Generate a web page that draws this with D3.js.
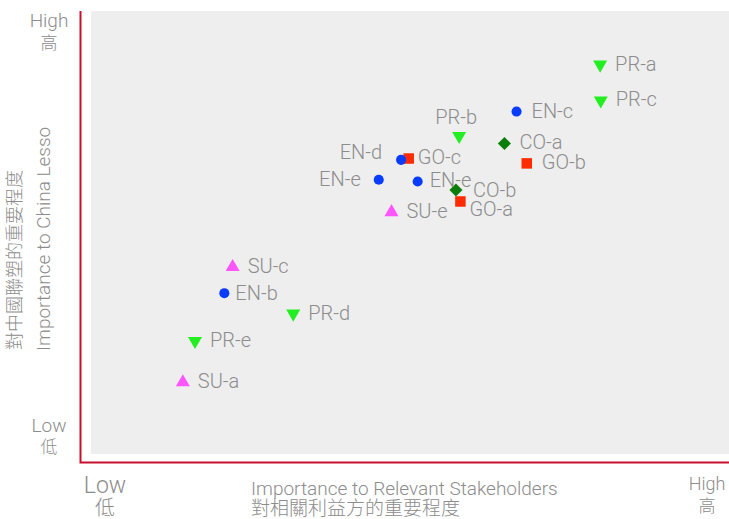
<!DOCTYPE html>
<html>
<head>
<meta charset="utf-8">
<script src="https://cdn.jsdelivr.net/npm/d3@7"></script>
<style>
  body { margin: 0; background: #fff; }
  svg text { font-family: "Roboto", "Noto Sans CJK TC", sans-serif; font-weight: 300; fill: #8c8c8c; }
</style>
</head>
<body>
<svg id="chart"></svg>
<script>
// issues (0 = low, 10 = high importance)
const names = ["GO-b", "GO-c", "GO-a", "CO-a", "CO-b", "PR-a", "PR-c", "PR-b", "PR-d", "PR-e",
               "SU-e", "SU-c", "SU-a", "EN-c", "EN-d", "EN-e", "EN-e", "EN-b"];
const stakeholderScores = [6.83, 4.98, 5.79, 6.48, 5.72, 7.98, 7.99, 5.77, 3.17, 1.63,
                           4.71, 2.22, 1.44, 6.67, 4.86, 4.51, 5.12, 2.09];
const lessoScores = [6.56, 6.67, 5.70, 7.01, 5.96, 8.79, 7.98, 7.18, 3.17, 2.55,
                     5.46, 4.22, 1.62, 7.73, 6.64, 6.19, 6.15, 3.63];
const groupNames = ["GO", "CO", "PR", "SU", "EN"];
const groupColors = ["#ff2a00", "#0b7d0b", "#22ee22", "#ff55ff", "#0a3cff"];

const W = 729, H = 519;
const margin = { top: 11, right: 0, bottom: 65, left: 91 };

const svg = d3.select("#chart").attr("width", W).attr("height", H);

const x = d3.scaleLinear().domain([0, 10]).range([margin.left, W - margin.right]);
const y = d3.scaleLinear().domain([0, 10]).range([H - margin.bottom, margin.top]);
const color = d3.scaleOrdinal().domain(groupNames).range(groupColors);

// plot background
svg.append("rect")
    .attr("x", x(0)).attr("y", y(10))
    .attr("width", x(10) - x(0)).attr("height", y(0) - y(10))
    .attr("fill", "#eeeeee");

// red axis lines
svg.append("path")
    .attr("d", `M80.5,${y(10)}V462.5H${W}`)
    .attr("fill", "none")
    .attr("stroke", "#c8102e")
    .attr("stroke-width", 2);

const shapes = {
    GO: d3.symbol(d3.symbolSquare, 110),
    CO: d3.symbol(d3.symbolSquare, 85),
    PR: d3.symbol(d3.symbolTriangle, 85),
    SU: d3.symbol(d3.symbolTriangle, 85),
    EN: d3.symbol(d3.symbolCircle, 80)
};
const turn = { GO: 0, CO: 45, PR: 180, SU: 0, EN: 0 };

// label nudges (index -> offset), default is right of the marker
const labelNudge = {
    1: { dx: 9, dy: -2 },
    2: { dx: 9, dy: 8 },
    4: { dx: 17, dy: 0 },
    7: { dx: -3, dy: -19, anchor: "middle" },
    14: { dx: -19, dy: -8, anchor: "end" },
    15: { dx: -18, dy: -1, anchor: "end" },
    16: { dx: 12, dy: -2 },
    17: { dx: 11, dy: 0 }
};

const points = names.map((n, i) => ({
    name: n,
    group: n.slice(0, 2),
    sx: stakeholderScores[i],
    sy: lessoScores[i],
    nudge: labelNudge[i] || { dx: 15, dy: -1 }
}));

svg.append("g").selectAll("path")
    .data(points)
    .join("path")
    .attr("d", d => shapes[d.group]())
    .attr("transform", d => `translate(${x(d.sx)},${y(d.sy)}) rotate(${turn[d.group]})`)
    .attr("fill", d => color(d.group));

svg.append("g").selectAll("text")
    .data(points)
    .join("text")
    .attr("x", d => x(d.sx) + d.nudge.dx)
    .attr("y", d => y(d.sy) + d.nudge.dy)
    .attr("dy", "0.35em")
    .attr("text-anchor", d => d.nudge.anchor || "start")
    .style("font-size", "20px")
    .text(d => d.name);

// low / high ends of the axes
function endLabel(cx, y1, y2, en, zh, s1, s2) {
    const t = svg.append("g").attr("text-anchor", "middle");
    t.append("text").attr("x", cx).attr("y", y1).style("font-size", s1 + "px").text(en);
    t.append("text").attr("x", cx).attr("y", y2).style("font-size", s2 + "px").text(zh);
}
endLabel(49, 27, 49, "High", "高", 19, 17);
endLabel(49, 432, 453, "Low", "低", 19, 17);
endLabel(105, 493, 515, "Low", "低", 23, 20);
endLabel(707, 490, 512, "High", "高", 18, 17);

// axis titles
const xt = svg.append("g");
xt.append("text").attr("x", 251).attr("y", 495).style("font-size", "19px")
    .text("Importance to Relevant Stakeholders");
xt.append("text").attr("x", 251).attr("y", 515).style("font-size", "19px")
    .text("對相關利益方的重要程度");

const yt = svg.append("g");
yt.append("text").attr("transform", "translate(50,351) rotate(-90)").style("font-size", "19px")
    .text("Importance to China Lesso");
yt.append("text").attr("transform", "translate(21,350) rotate(-90)").style("font-size", "18px")
    .text("對中國聯塑的重要程度");
</script>
</body>
</html>
